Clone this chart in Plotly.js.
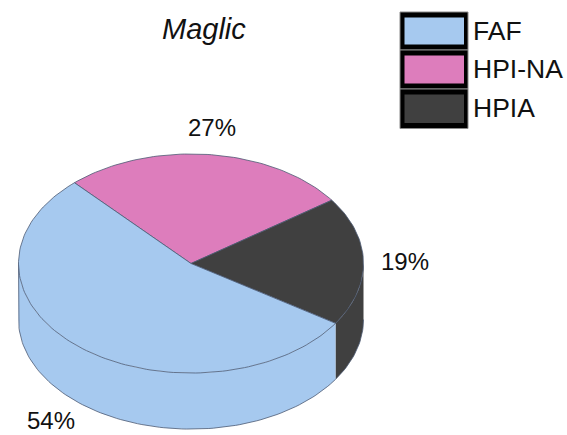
<!DOCTYPE html>
<html>
<head>
<meta charset="utf-8">
<script src="https://cdn.plot.ly/plotly-3.0.1.min.js"></script>
<style>html,body{margin:0;padding:0;background:#fff}#chart{width:567px;height:435px}</style>
</head>
<body>
<div id="chart"></div>
<script>
// Composition shares for the Maglic sample
const chartTitle = 'Maglic';
const categories = ['HPI-NA', 'HPIA', 'FAF'];
const shares = [27, 19, 54];
const colors = ['#dd7dbc', '#404040', '#a6c9ef'];
const legendOrder = ['FAF', 'HPI-NA', 'HPIA'];

// Disc geometry, in units of the disc radius
const W = 567, H = 435;
const centerX = 191, centerY = 263.5, radiusPx = 172.5;
const tilt = 0.635, depth = 0.325;
const startAngle = 132.5;        // degrees, where the first slice begins
const edgeColor = '#4d5a74';

const total = shares.reduce((a, b) => a + b, 0);
const rad = d => d * Math.PI / 180;

function arc(from, to, drop) {
  const n = Math.max(2, Math.ceil(Math.abs(to - from) / 1.5));
  const xs = [], ys = [];
  for (let i = 0; i <= n; i++) {
    const t = rad(from + (to - from) * i / n);
    xs.push(Math.cos(t));
    ys.push(Math.sin(t) * tilt - drop);
  }
  return [xs, ys];
}

const walls = [], tops = [];
let a = startAngle;
shares.forEach((share, i) => {
  const b = a - share / total * 360;

  // Outer wall: only the part of the rim facing the viewer (180..360 degrees)
  const lo = Math.max(b, -180), hi = Math.min(a, 0);
  if (hi > lo) {
    const [x1, y1] = arc(hi, lo, 0);
    const [x2, y2] = arc(lo, hi, depth);
    walls.push({
      x: x1.concat(x2), y: y1.concat(y2), type: 'scatter', mode: 'lines',
      fill: 'toself', fillcolor: colors[i], line: {width: 0}, hoverinfo: 'skip'
    });
    // Lower rim; the left silhouette edge is only drawn where the wall reaches it
    const silhouette = lo === -180;
    walls.push({
      x: (silhouette ? [x1[x1.length - 1]] : []).concat(x2),
      y: (silhouette ? [y1[y1.length - 1]] : []).concat(y2),
      type: 'scatter', mode: 'lines',
      line: {color: edgeColor, width: 0.8}, hoverinfo: 'skip'
    });
  }

  // Top face of the slice
  const [tx, ty] = arc(a, b, 0);
  tops.push({
    x: [0].concat(tx, [0]), y: [0].concat(ty, [0]), type: 'scatter', mode: 'lines',
    fill: 'toself', fillcolor: colors[i], line: {color: edgeColor, width: 0.8},
    name: categories[i], hoverinfo: 'name'
  });
  a = b;
});
const traces = [...walls, ...tops];

const px = x => x / W;
const py = y => 1 - y / H;

// Hand-built legend: heavy black frames stacked on each other
const rowTops = [12, 50, 89];
const rowHeights = [38, 39, 39.5];
const frameInset = 5.5;
const shapes = [];
legendOrder.forEach((name, i) => {
  const c = colors[categories.indexOf(name)];
  shapes.push({
    type: 'rect', xref: 'paper', yref: 'paper',
    x0: px(400), x1: px(468), y0: py(rowTops[i]), y1: py(rowTops[i] + rowHeights[i]),
    fillcolor: '#000', line: {color: '#8a8a8a', width: 1}
  });
  shapes.push({
    type: 'rect', xref: 'paper', yref: 'paper',
    x0: px(404.5), x1: px(464),
    y0: py(rowTops[i] + frameInset), y1: py(rowTops[i] + rowHeights[i] - frameInset),
    fillcolor: c, line: {width: 0}
  });
});

const textFont = {family: '"Liberation Sans", Arial, sans-serif', color: '#111'};
const note = (x, y, text, size, extra) => Object.assign({
  xref: 'paper', yref: 'paper', x: px(x), y: py(y), text, showarrow: false,
  xanchor: 'center', yanchor: 'middle', font: Object.assign({}, textFont, {size})
}, extra || {});

const annotations = [
  note(204, 29, '<i>' + chartTitle + '</i>', 29),
  note(212, 127, shares[0] + '%', 24),
  note(405, 261, shares[1] + '%', 24),
  note(51, 420, shares[2] + '%', 24)
];
legendOrder.forEach((name, i) => {
  annotations.push(note(471, rowTops[i] + 19, name, 26.5, {xanchor: 'left'}));
});

const layout = {
  width: W, height: H,
  margin: {l: 0, r: 0, t: 0, b: 0},
  paper_bgcolor: '#fff', plot_bgcolor: '#fff',
  showlegend: false,
  xaxis: {range: [-centerX / radiusPx, (W - centerX) / radiusPx], visible: false, fixedrange: true},
  yaxis: {range: [(centerY - H) / radiusPx, centerY / radiusPx], visible: false, fixedrange: true},
  shapes, annotations
};

Plotly.newPlot('chart', traces, layout, {displayModeBar: false, staticPlot: true});
</script>
</body>
</html>
